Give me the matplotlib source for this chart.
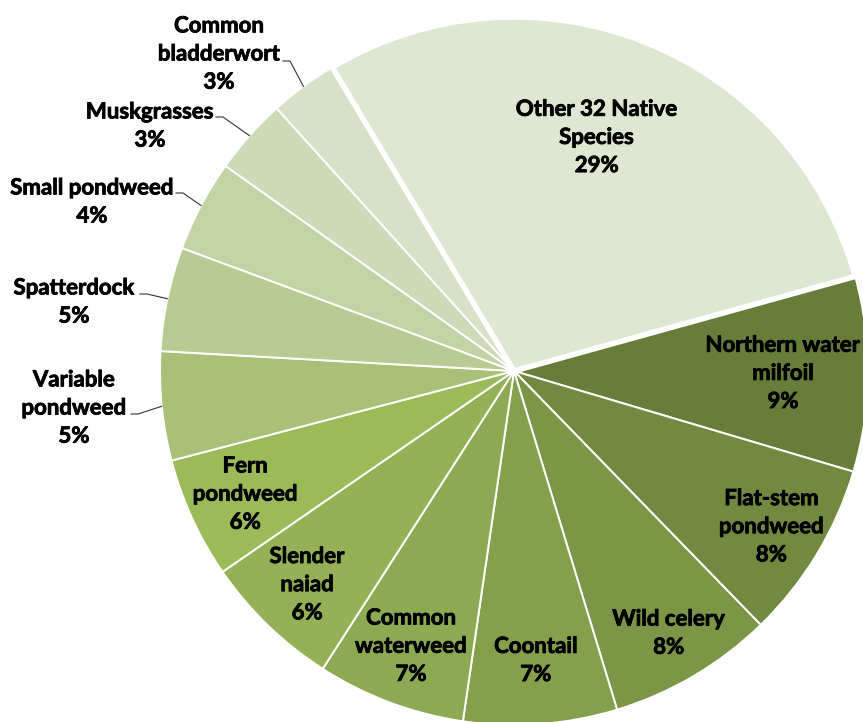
import matplotlib.pyplot as plt
import matplotlib.patheffects as pe
import numpy as np

W, H = 863, 722

species = ['Other 32 Native\nSpecies', 'Northern water\nmilfoil', 'Flat-stem\npondweed',
           'Wild celery', 'Coontail', 'Common\nwaterweed', 'Slender\nnaiad',
           'Fern\npondweed', 'Variable\npondweed', 'Spatterdock', 'Small pondweed',
           'Muskgrasses', 'Common\nbladderwort']
shares = [29.28, 8.89, 8.14, 7.57, 7.01, 6.78, 6.31, 5.53, 4.97, 4.75, 4.19, 3.47, 3.11]
colors = ['#DEE7D1', '#667E3A', '#728A40', '#7B9646', '#84A04B', '#8CAA51', '#94B255',
          '#9BBB59', '#A8C176', '#B7CB92', '#C2D3A5', '#CDDAB7', '#D7E1C6']

# labels drawn inside the wedge: fraction of radius, and a small turn off the mid angle
inside_r = [0.70, 0.76, 0.85, 0.86, 0.82, 0.83, 0.84, 0.835]
inside_turn = [2.3, 0, 0, 0, 0, 0, 0, 0]
# labels drawn outside with a leader: text centre and elbow, in pixels from top-left
outside = [((74, 408), (138, 414)),
           ((74, 302), (147, 294)),
           ((92, 202), (183, 193)),
           ((150, 126), (223, 117)),
           ((219, 54), (290, 61))]

plt.rcParams['font.family'] = ['Lato', 'DejaVu Sans']

fig = plt.figure(figsize=(W / 100, H / 100), dpi=100)
ax = fig.add_axes([0, 0, 1, 1])

cx, cy, R = 514, H - 371, 354
wedges, _ = ax.pie(shares, colors=colors, startangle=120.9, counterclock=False,
                   center=(cx, cy), radius=R,
                   wedgeprops=dict(edgecolor='white', linewidth=1.4))
wedges[0].set_linewidth(4)
wedges[0].set_zorder(3)

ax.set_xlim(0, W)
ax.set_ylim(0, H)
ax.set_aspect('equal')
ax.axis('off')

txt = dict(fontsize=16, fontweight='bold', color='black', ha='center', va='center',
           linespacing=1.42, zorder=5,
           path_effects=[pe.withStroke(linewidth=0.6, foreground='black')])

for i, w in enumerate(wedges):
    label = '%s\n%d%%' % (species[i], round(shares[i]))
    mid_deg = (w.theta1 + w.theta2) / 2
    if i < len(inside_r):
        a = np.deg2rad(mid_deg + inside_turn[i])
        r = inside_r[i] * R
        ax.text(cx + r * np.cos(a), cy + r * np.sin(a), label, **txt)
    else:
        a = np.deg2rad(mid_deg)
        (tx, ty), (ex, ey) = outside[i - len(inside_r)]
        rim = (cx + R * np.cos(a), cy + R * np.sin(a))
        ax.plot([rim[0], ex, ex - 7], [rim[1], H - ey, H - ey], color='#333333',
                lw=0.8, zorder=4, clip_on=False)
        ax.text(tx, H - ty, label, **txt)

fig.savefig('out.png', dpi=100, facecolor='white')
